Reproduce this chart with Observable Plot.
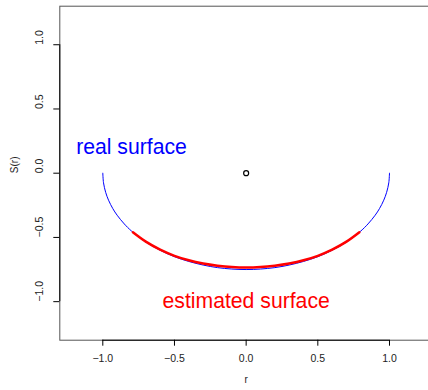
<!DOCTYPE html>
<html>
<head>
<meta charset="utf-8">
<script src="https://cdn.jsdelivr.net/npm/d3@7"></script>
<script src="https://cdn.jsdelivr.net/npm/@observablehq/plot@0.6"></script>
<style>
  html, body { margin: 0; padding: 0; background: white; overflow: hidden; }
  svg { overflow: hidden; }
</style>
</head>
<body>
<div id="chart"></div>
<script>
// Axis settings
const xDomain = [-1.3, 1.3];
const yDomain = [-1.3, 1.3];
const xTicks = [-1.0, -0.5, 0.0, 0.5, 1.0];
const yTicks = [-1.0, -0.5, 0.0, 0.5, 1.0];

// Real surface (blue)
const realX = [-1.0, -0.995, -0.98, -0.96, -0.93, -0.9, -0.85, -0.8, -0.7, -0.6, -0.5, -0.4, -0.3, -0.2, -0.1, 0.0,
               0.1, 0.2, 0.3, 0.4, 0.5, 0.6, 0.7, 0.8, 0.85, 0.9, 0.93, 0.96, 0.98, 0.995, 1.0];
const realY = [0.0, -0.075, -0.149, -0.21, -0.276, -0.327, -0.395, -0.45, -0.536, -0.6, -0.65, -0.687, -0.715, -0.735, -0.746, -0.75,
               -0.746, -0.735, -0.715, -0.687, -0.65, -0.6, -0.536, -0.45, -0.395, -0.327, -0.276, -0.21, -0.149, -0.075, 0.0];

// Estimated surface (red)
const estX = [-0.79, -0.7, -0.6, -0.5, -0.4, -0.3, -0.2, -0.1, 0.0, 0.1, 0.2, 0.3, 0.4, 0.5, 0.6, 0.7, 0.79];
const estY = [-0.46, -0.533, -0.595, -0.643, -0.678, -0.703, -0.72, -0.731, -0.735, -0.731, -0.72, -0.703, -0.678, -0.643, -0.595, -0.533, -0.46];

// Centre point
const pointX = [0.0];
const pointY = [0.0];

// Annotations
const labelText = ["real surface", "estimated surface"];
const labelX = [-0.8, 0.0];
const labelY = [0.2, -1.0];
const labelColor = ["#0000ff", "#ff0000"];

const real = realX.map((x, i) => ({x, y: realY[i]}));
const est = estX.map((x, i) => ({x, y: estY[i]}));
const pts = pointX.map((x, i) => ({x, y: pointY[i]}));
const labels = labelText.map((t, i) => ({t, x: labelX[i], y: labelY[i], c: labelColor[i]}));
const fmt = d3.format(".1f");

const chart = Plot.plot({
  width: 428,
  height: 390,
  marginLeft: 59.3,
  marginTop: 5.7,
  marginBottom: 50.3,
  marginRight: -4,
  style: {fontFamily: "'Liberation Sans', Arial, Helvetica, sans-serif", background: "white"},
  x: {domain: xDomain, axis: null},
  y: {domain: yDomain, axis: null},
  marks: [
    Plot.frame({stroke: "#555", strokeWidth: 1}),
    Plot.ruleY([yDomain[0]], {x1: xTicks[0], x2: xTicks[xTicks.length - 1], stroke: "black"}),
    Plot.ruleX([xDomain[0]], {y1: yTicks[0], y2: yTicks[yTicks.length - 1], stroke: "black"}),
    Plot.axisX(xTicks, {tickSize: 6, tickPadding: 8, fontSize: 10.5, fill: "#222", tickFormat: fmt, label: null, stroke: "black"}),
    Plot.axisY(yTicks, {tickSize: 6, tickFormat: () => "", label: null, stroke: "black"}),
    Plot.text(yTicks, {y: d => d, frameAnchor: "left", dx: -20, rotate: -90, text: d => fmt(d), fontSize: 10.5, fill: "#222", lineAnchor: "middle"}),
    Plot.text(["S(r)"], {frameAnchor: "left", dx: -45.5, rotate: -90, text: d => d, fontSize: 10, fill: "#222"}),
    Plot.text(["r"], {frameAnchor: "bottom", dy: 43, text: d => d, fontSize: 10, fill: "#222"}),
    Plot.line(real, {x: "x", y: "y", stroke: "#0000ff", strokeWidth: 1, curve: "catmull-rom"}),
    Plot.line(est, {x: "x", y: "y", stroke: "#ff0000", strokeWidth: 2.5, curve: "catmull-rom"}),
    Plot.dot(pts, {x: "x", y: "y", r: 2.5, stroke: "black", strokeWidth: 1.2, fill: "none"}),
    Plot.text(labels, {x: "x", y: "y", text: "t", fill: "c", fontSize: 21.2, lineAnchor: "middle"})
  ]
});
document.getElementById("chart").appendChild(chart);
</script>
</body>
</html>
